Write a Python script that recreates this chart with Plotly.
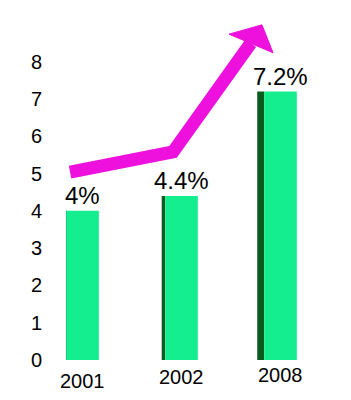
import plotly.graph_objects as go

# ---- data ----
years = ["2001", "2002", "2008"]
values = [4.0, 4.4, 7.2]
value_labels = ["4%", "4.4%", "7.2%"]
y_ticks = [0, 1, 2, 3, 4, 5, 6, 7, 8]

# ---- style ----
xpos = list(range(len(years)))
FRONT_W = 0.33
side_w = [0.0, 0.035, 0.07]           # visible dark side face per bar
label_yshift = [-8, -4, -2]          # perspective offset of year labels
FRONT_COLOR = "#14ee8e"
SIDE_COLOR = "#0b5a1e"
ARROW_COLOR = "#ee11dd"
FONT = "Liberation Sans, Arial, sans-serif"

# decorative trend arrow (data units)
arrow_shaft = [(-0.126, 5.04), (0.914, 5.58), (1.70, 8.50)]
arrow_head = [(1.48, 8.74), (1.813, 8.99), (1.925, 8.24)]

fig = go.Figure()

# dark side face
fig.add_trace(go.Bar(
    x=xpos, y=values,
    width=side_w,
    offset=[-FRONT_W / 2 - w for w in side_w],
    marker=dict(color=SIDE_COLOR, line=dict(width=0)),
    hoverinfo="skip", showlegend=False,
))
# front face
fig.add_trace(go.Bar(
    x=xpos, y=values,
    width=[FRONT_W] * len(xpos),
    offset=[-FRONT_W / 2] * len(xpos),
    marker=dict(color=FRONT_COLOR, line=dict(width=0)),
    showlegend=False,
))

annotations = []
for x, v, t in zip(xpos, values, value_labels):
    annotations.append(dict(x=x, y=v, text=t, showarrow=False, xanchor="center",
                            yanchor="bottom", yshift=0,
                            font=dict(family=FONT, size=24, color="#000000")))
for x, t, s in zip(xpos, years, label_yshift):
    annotations.append(dict(x=x, y=0, text=t, showarrow=False, xanchor="center",
                            yanchor="top", yshift=s,
                            font=dict(family=FONT, size=20, color="#000000")))

shaft_path = "M " + " L ".join(f"{x},{y}" for x, y in arrow_shaft)
head_path = "M " + " L ".join(f"{x},{y}" for x, y in arrow_head) + " Z"
shapes = [
    dict(type="path", path=shaft_path, xref="x", yref="y",
         line=dict(color=ARROW_COLOR, width=13), layer="above"),
    dict(type="path", path=head_path, xref="x", yref="y",
         fillcolor=ARROW_COLOR, line=dict(color=ARROW_COLOR, width=1), layer="above"),
]

fig.update_layout(
    width=351, height=400,
    margin=dict(l=47, r=5, t=17, b=40),
    paper_bgcolor="white", plot_bgcolor="white",
    barmode="overlay",
    showlegend=False,
    annotations=annotations,
    shapes=shapes,
    xaxis=dict(range=[-0.359, 2.662], showticklabels=False, showgrid=False,
               zeroline=False, showline=False, ticks=""),
    yaxis=dict(range=[0, 9.2], tickvals=y_ticks, showgrid=False, zeroline=False,
               showline=False, ticks="", ticklabelstandoff=4,
               tickfont=dict(family=FONT, size=20, color="#000000")),
)

fig.write_html("out.html")
